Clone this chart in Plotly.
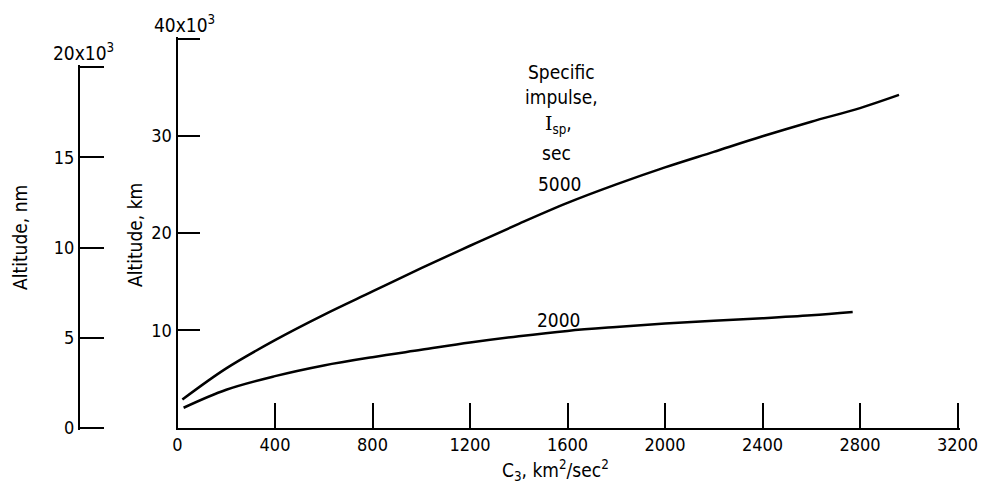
import plotly.graph_objects as go

# C3 (km^2/sec^2) vs altitude (km) for two specific impulses
c3_5000 = [20, 200, 400, 600, 800, 1000, 1200, 1400, 1600, 1800, 2000, 2200, 2400, 2600, 2800, 2960]
alt_5000 = [2900, 6100, 9000, 11600, 14000, 16400, 18700, 20950, 23100, 25000, 26750, 28350, 29950, 31450, 32850, 34200]

c3_2000 = [25, 200, 400, 600, 800, 1000, 1200, 1400, 1600, 1800, 2000, 2200, 2400, 2600, 2770]
alt_2000 = [2050, 3900, 5300, 6400, 7250, 8000, 8750, 9400, 9950, 10350, 10700, 11000, 11250, 11550, 11900]

x_ticks = [0, 400, 800, 1200, 1600, 2000, 2400, 2800, 3200]
x_ticktext = ["0", "400", "800", "1200", "1600", "2000", "2400", "2800", "3200"]
km_ticks = [0, 10000, 20000, 30000, 40000]
km_ticktext = ["", "10", "20", "30", ""]
nm_ticks = [0, 5000, 10000, 15000, 20000]
nm_ticktext = ["0", "5", "10", "15", ""]
KM_PER_NM = 1.852

FONT = "Liberation Sans Narrow, DejaVu Sans Condensed, sans-serif"
W, H = 983, 496

def px_x(p):
    return p / W

def px_y(p):
    return 1 - p / H

fig = go.Figure()
fig.add_trace(go.Scatter(x=c3_5000, y=alt_5000, mode="lines",
                         line=dict(color="black", width=2.5, shape="spline", smoothing=1),
                         hoverinfo="skip", showlegend=False))
fig.add_trace(go.Scatter(x=c3_2000, y=alt_2000, mode="lines",
                         line=dict(color="black", width=2.5, shape="spline", smoothing=1),
                         hoverinfo="skip", showlegend=False))
# invisible trace carrying the nautical-mile axis
fig.add_trace(go.Scatter(x=c3_5000, y=[a / KM_PER_NM for a in alt_5000], yaxis="y2",
                         mode="lines", line=dict(width=0), opacity=0,
                         hoverinfo="skip", showlegend=False))

# pixel geometry of the axes
x0_px, x3200_px = 177.5, 957.5
y0_px, y40_px = 427.7, 38.5
nm_top_px = y0_px - (20000 * KM_PER_NM / 40000) * (y0_px - y40_px)
PAD = 2.0  # pixels of slack so the end ticks are drawn

x_per_px = 3200 / (x3200_px - x0_px)
km_per_px = 40000 / (y0_px - y40_px)
nm_per_px = 20000 / (y0_px - nm_top_px)

common = dict(ticks="inside", tickwidth=1.8, tickcolor="black", showline=True,
              linecolor="black", linewidth=2, showgrid=False, zeroline=False,
              automargin=False, tickfont=dict(family=FONT, size=18))

fig.update_layout(
    width=W, height=H,
    margin=dict(l=0, r=0, t=0, b=0),
    paper_bgcolor="white", plot_bgcolor="rgba(0,0,0,0)",
    font=dict(family=FONT, size=19, color="black"),
    xaxis=dict(domain=[px_x(x0_px), px_x(x3200_px + PAD)],
               range=[0, 3200 + PAD * x_per_px],
               tickvals=x_ticks, ticktext=x_ticktext, ticklen=25, **common),
    yaxis=dict(domain=[px_y(y0_px), px_y(y40_px - PAD)],
               range=[0, 40000 + PAD * km_per_px],
               tickvals=km_ticks, ticktext=km_ticktext, ticklen=22, **common),
    yaxis2=dict(domain=[px_y(y0_px + PAD), px_y(nm_top_px - PAD)],
                range=[-PAD * nm_per_px, 20000 + PAD * nm_per_px],
                anchor="free", position=px_x(79), side="left",
                tickvals=nm_ticks, ticktext=nm_ticktext, ticklen=24, **common),
)

ann = [
    dict(text="40x10<sup>3</sup>", x=px_x(184), y=px_y(24)),
    dict(text="20x10<sup>3</sup>", x=px_x(83), y=px_y(52)),
    dict(text="Altitude, nm", x=px_x(20), y=px_y(238), textangle=-90),
    dict(text="Altitude, km", x=px_x(135), y=px_y(235), textangle=-90),
    dict(text="C<sub>3</sub>, km<sup>2</sup>/sec<sup>2</sup>", x=px_x(555), y=px_y(470)),
    dict(text="Specific", x=px_x(561), y=px_y(72)),
    dict(text="impulse,", x=px_x(561), y=px_y(97)),
    dict(text='<span style="font-family:DejaVu Serif">I</span><sub>sp</sub>,', x=px_x(558), y=px_y(125)),
    dict(text="sec", x=px_x(556), y=px_y(153)),
    dict(text="5000", x=px_x(560), y=px_y(184)),
    dict(text="2000", x=px_x(559), y=px_y(320)),
]
for a in ann:
    fig.add_annotation(xref="paper", yref="paper", showarrow=False,
                       xanchor="center", yanchor="middle",
                       font=dict(family=FONT, size=19, color="black"), **a)

fig.write_html("out.html")
